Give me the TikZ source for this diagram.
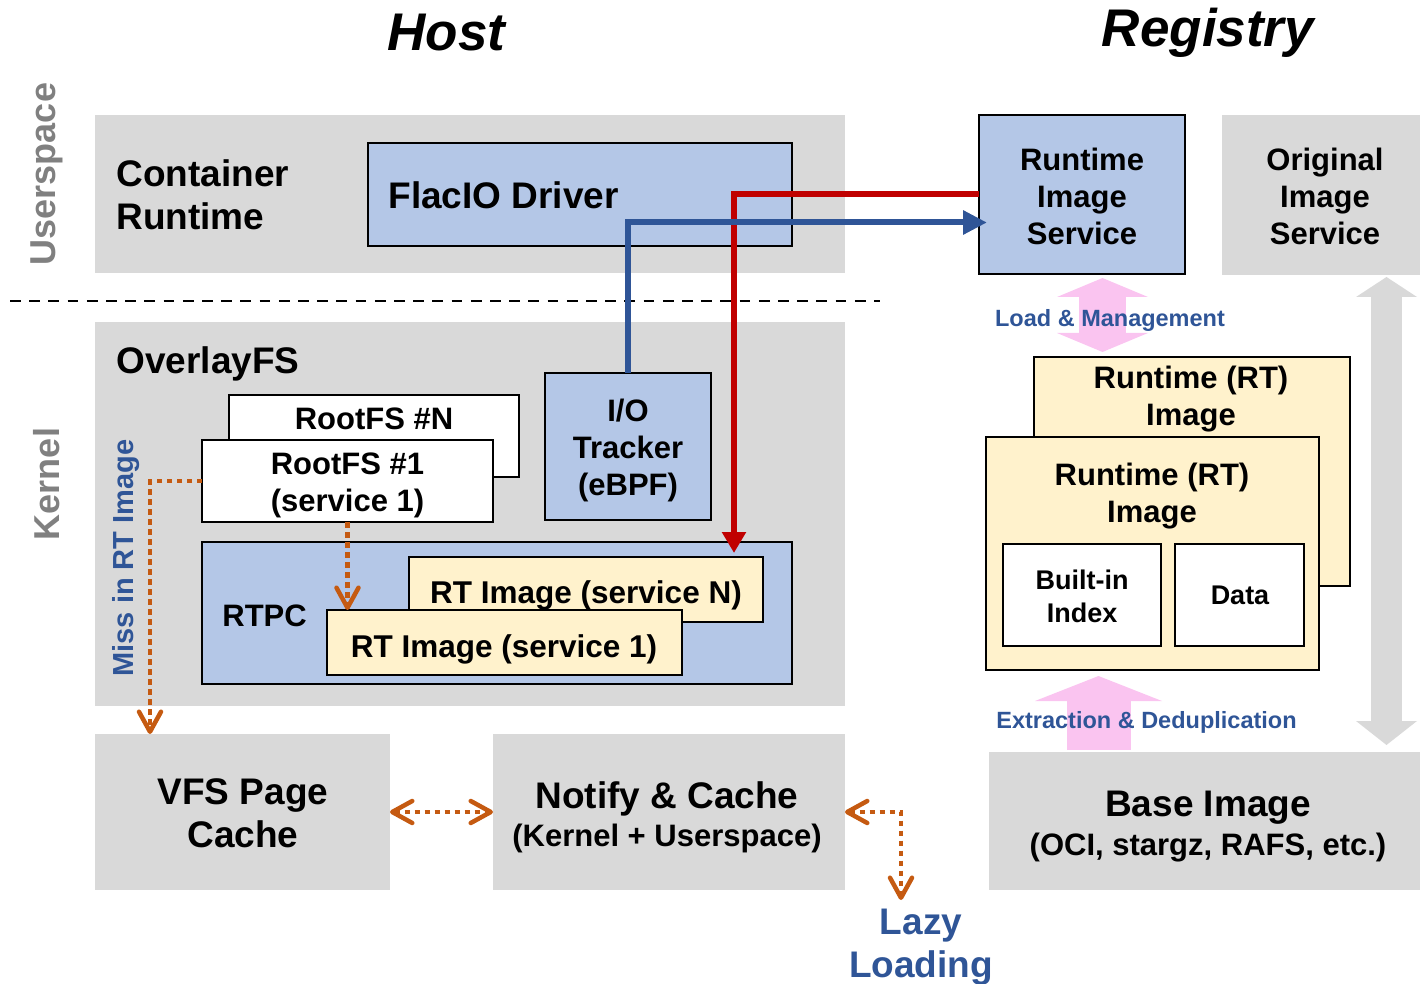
\documentclass[tikz,border=0pt]{standalone}
\usepackage{fontspec}
\setmainfont{Liberation Sans}
\usetikzlibrary{arrows.meta,fit,calc}

\definecolor{boxgray}{HTML}{D9D9D9}
\definecolor{boxblue}{HTML}{B4C7E7}
\definecolor{boxcream}{HTML}{FFF2CC}
\definecolor{textblue}{HTML}{2F5597}
\definecolor{linered}{HTML}{C00000}
\definecolor{lineorange}{HTML}{C55A11}
\definecolor{arrowpink}{RGB}{250,196,240}
\definecolor{labelgray}{HTML}{808080}

\begin{document}
\begin{tikzpicture}[x=0.5pt,y=-0.5pt,
  graybox/.style={fill=boxgray, draw=none, inner sep=0pt, outer sep=0pt},
  bluebox/.style={fill=boxblue, draw=black, line width=1pt, inner sep=0pt, outer sep=0pt},
  creambox/.style={fill=boxcream, draw=black, line width=1pt, inner sep=0pt, outer sep=0pt},
  whitebox/.style={fill=white, draw=black, line width=1.1pt, inner sep=0pt, outer sep=0pt},
  txt/.style={align=center, inner sep=0pt},
  title/.style={txt, font=\fontsize{26.5}{32}\selectfont\bfseries\itshape},
  side/.style={txt, rotate=90, text=labelgray, font=\fontsize{18}{21}\selectfont\bfseries},
  big/.style={txt, font=\fontsize{18.5}{21.5}\selectfont\bfseries},
  mid/.style={txt, font=\fontsize{15.5}{18.5}\selectfont\bfseries},
  midwide/.style={txt, font=\fontsize{15.75}{18.5}\selectfont\bfseries},
  paren/.style={txt, font=\fontsize{15.5}{18}\selectfont\bfseries},
  small/.style={txt, font=\fontsize{13.5}{16.5}\selectfont\bfseries},
  note/.style={txt, text=textblue, font=\fontsize{11.75}{14}\selectfont\bfseries},
  miss/.style={txt, rotate=90, text=textblue, font=\fontsize{14.5}{17}\selectfont\bfseries},
  sepline/.style={draw=black, line width=1pt, dash pattern=on 5.4pt off 4.2pt},
  redpath/.style={draw=linered, line width=3pt, -{Triangle[length=10.5pt,width=11.5pt]}},
  bluepath/.style={draw=textblue, line width=3pt, -{Triangle[length=12pt,width=11.5pt]}},
  obarb/.tip={Straight Barb[length=10pt,width=11pt,line cap=round,line join=round]},
  dotpath/.style={draw=lineorange, line width=2.25pt, dash pattern=on 2.75pt off 2.25pt},
  lmarrow/.style={draw=arrowpink, line width=23.5pt,
    {Triangle[length=9.5pt,width=45.5pt,line width=0pt]}-{Triangle[length=9.5pt,width=45.5pt,line width=0pt]}},
  exarrow/.style={draw=arrowpink, line width=32pt,
    -{Triangle[length=12.5pt,width=63.5pt,line width=0pt]}},
  grayarrow/.style={draw=boxgray, line width=15.5pt,
    {Triangle[length=10pt,width=30.5pt,line width=0pt]}-{Triangle[length=12pt,width=30.5pt,line width=0pt]}}
]
\useasboundingbox (0,0) rectangle (1420,984);

% background regions
\node[graybox, fit={(95,115)(845,273)}] (usr) {};
\node[graybox, fit={(95,322)(845,706)}] (krn) {};
\node[graybox, fit={(95,734)(390,890)}] (vfs) {};
\node[graybox, fit={(493,734)(845,890)}] (nc) {};
\node[graybox, fit={(1222,115)(1420,275)}] (ois) {};
\node[graybox, fit={(989,752)(1420,890)}] (base) {};

% userspace / kernel separator
\draw[sepline] (10,301) -- (880,301);

% host components
\node[bluebox, fit={(368,143)(792,246)}] (drv) {};
\node[whitebox, fit={(229,395)(519,477)}] (rfN) {};
\node[whitebox, fit={(202,440)(493,522)}] (rf1) {};
\node[bluebox, fit={(545,373)(711,520)}] (io) {};
\node[bluebox, fit={(202,542)(792,684)}] (rtpc) {};
\node[creambox, fit={(409,557)(763,622)}] (rtN) {};
\node[creambox, fit={(327,610)(682,675)}] (rt1) {};

% registry components
\node[bluebox, fit={(979,115)(1185,274)}] (ris) {};
\node[creambox, fit={(1034,357)(1350,586)}] (rtb) {};
\node[creambox, fit={(986,437)(1319,670)}] (rtf) {};
\node[whitebox, fit={(1003,544)(1161,646)}] (idx) {};
\node[whitebox, fit={(1175,544)(1304,646)}] (dat) {};

% block arrows in the registry
\coordinate (lmA) at ($(ris.south)+(20.5,4)$);
\coordinate (lmB) at ($(lmA |- rtb.north)+(0,-5)$);
\draw[lmarrow] (lmA) -- (lmB);
\coordinate (exA) at ($(base.north)+(-106,-2)$);
\coordinate (exB) at ($(exA |- rtf.south)+(0,6)$);
\draw[exarrow] (exA) -- (exB);
\coordinate (gA) at ($(ois.south)+(65.5,2)$);
\coordinate (gB) at ($(gA |- base.north)+(0,-7)$);
\draw[grayarrow] (gA) -- (gB);

% titles and side labels
\node[title] (thost) at (446.5,33) {Host};
\node[title] (treg) at (1208,33) {Registry};
\node[side] (tus) at (47,174) {Userspace};
\node[side] (tkn) at (47,484) {Kernel};
\node[miss] (tmiss) at (126,558) {Miss in RT Image};

% host texts
\node[big, anchor=west, align=left] (tcr) at (116,195) {Container\\Runtime};
\node[big, anchor=west] (tdrv) at (388,195) {FlacIO Driver};
\node[big, anchor=west] (tofs) at (116,364) {OverlayFS};
\node[mid] (trfN) at (374,419) {RootFS \#N};
\node[mid] (trf1) at (347.5,485.5) {RootFS \#1\\(service 1)};
\node[mid] (tio) at (628,450.5) {I/O\\Tracker\\(eBPF)};
\node[mid, anchor=west] (trtpc) at (222,615.5) {RTPC};
\node[midwide] (trtN) at (586,595) {RT Image (service N)};
\node[midwide] (trt1) at (504,649) {RT Image (service 1)};
\node[big] (tvfs) at (243,813.5) {VFS Page\\Cache};
\node[big] (tnc1) at (667,799) {Notify \& Cache};
\node[paren] (tnc2) at (667,838) {(Kernel + Userspace)};
\node[big, text=textblue] (tlazy) at (921,947) {Lazy\\Loading};

% registry texts
\node[mid] (tris) at (1082,196) {Runtime\\Image\\Service};
\node[mid] (tois) at (1325,196) {Original\\Image\\Service};
\node[note] (tlm) at (1110,320) {Load \& Management};
\node[mid] (trtb) at (1191,399.5) {Runtime (RT)\\Image};
\node[mid] (trtf) at (1152,496) {Runtime (RT)\\Image};
\node[small] (tidx) at (1082,596) {Built-in\\Index};
\node[small] (tdat) at (1240,595) {Data};
\node[note] (tex) at (1146.5,722) {Extraction \& Deduplication};
\node[big] (tbase1) at (1208,808) {Base Image};
\node[paren] (tbase2) at (1208,848) {(OCI, stargz, RAFS, etc.)};

% data paths
\draw[redpath] (ris.west) -| ($(rtN.north east)+(-29,-4)$);
\draw[bluepath] (io.north) |- ($(ris.west)+(8,28)$);

% page-cache miss paths
\draw[dotpath, -obarb] (rf1.west) -| ($(vfs.north west)+(55,0)$);
\draw[dotpath, -obarb] (rf1.south) -- (rf1.south |- rt1.north);
\draw[dotpath, obarb-obarb] (vfs.east) -- (nc.west);
\coordinate (lazytip) at (901,900);
\draw[dotpath, obarb-obarb] (nc.east) -| (lazytip);
\end{tikzpicture}
\end{document}
